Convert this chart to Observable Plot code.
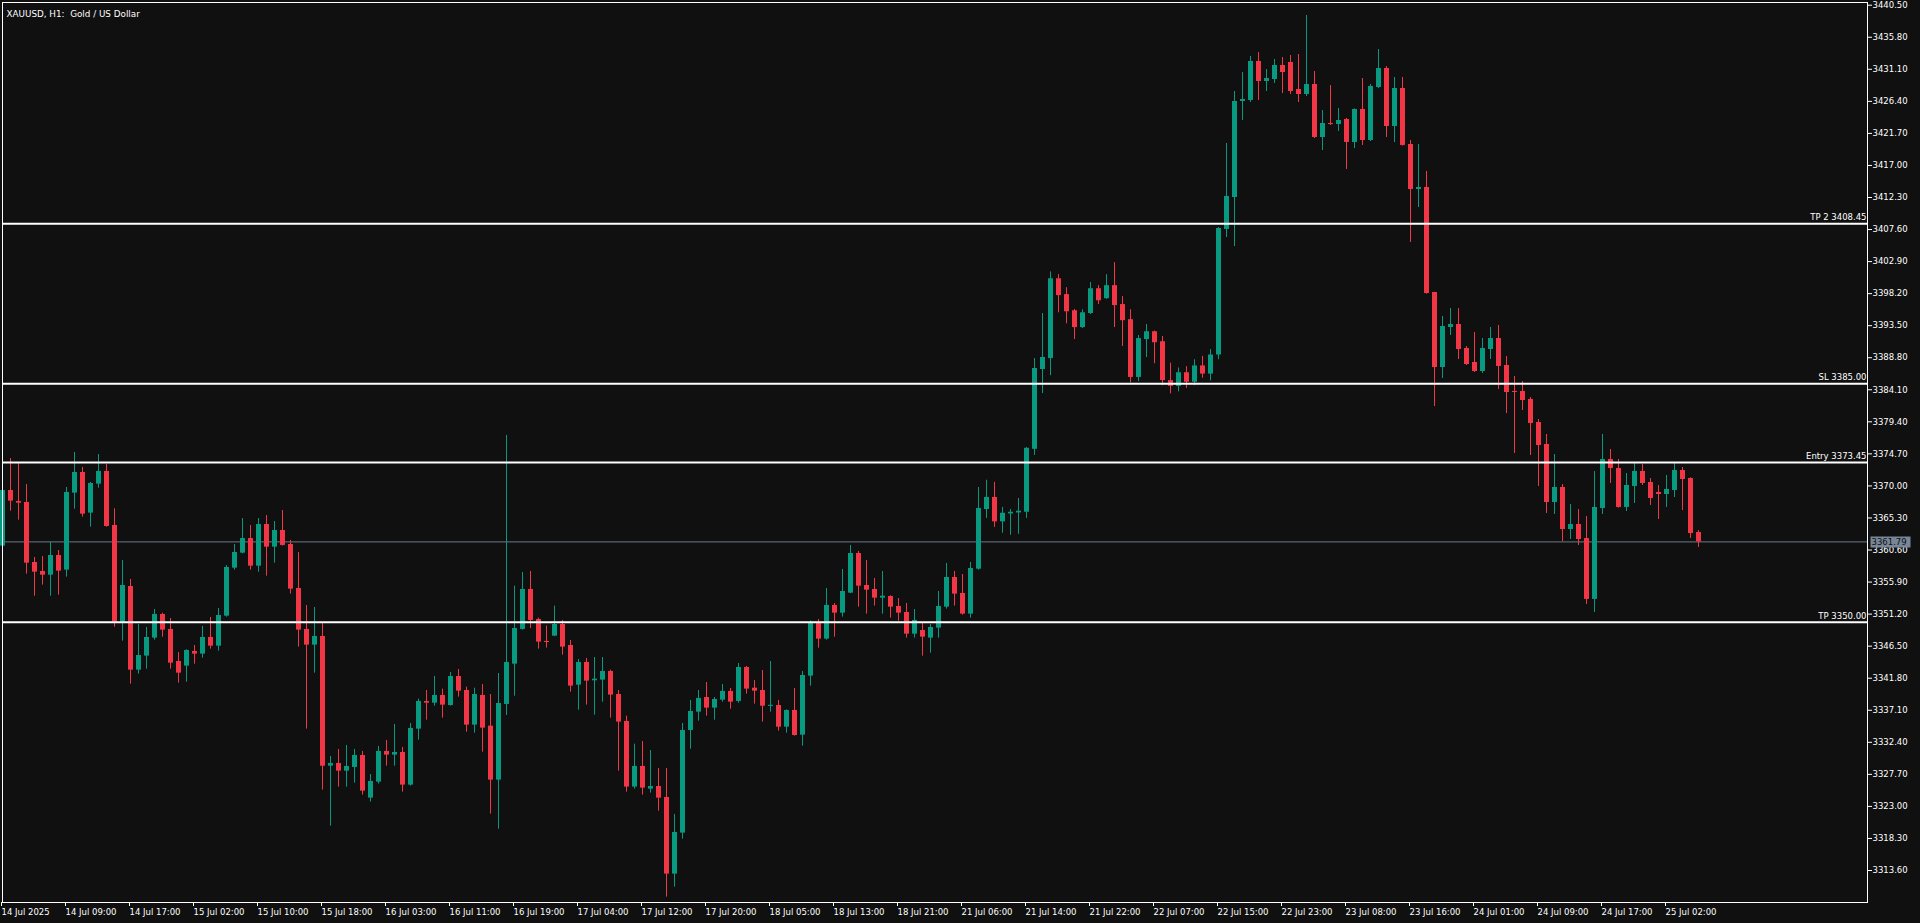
<!DOCTYPE html>
<html><head><meta charset="utf-8">
<script src="https://cdn.jsdelivr.net/npm/d3@7"></script>
<script src="https://cdn.jsdelivr.net/npm/@observablehq/plot@0.6"></script>
<style>
html,body{margin:0;padding:0;background:#101010;overflow:hidden}
svg text{white-space:pre}
</style>
</head><body><div id="chart"></div>
<script>
const chartTitle = "XAUUSD, H1:  Gold / US Dollar";

const opens = [3361.17,3369.33,3367.72,3367.57,3358.77,3357.45,3356.91,3359.80,3357.65,3368.94,3371.97,3366.01,3370.26,3372.12,3364.20,3350.02,3355.25,3342.98,3345.04,3347.68,3351.15,3348.95,3344.25,3343.57,3345.72,3345.33,3347.77,3346.50,3350.90,3357.94,3360.14,3362.29,3358.23,3364.34,3361.02,3363.46,3361.41,3354.96,3348.95,3346.65,3347.92,3328.90,3329.30,3328.17,3328.71,3330.47,3324.21,3326.56,3331.06,3330.52,3330.91,3326.12,3334.33,3338.39,3338.14,3339.27,3337.80,3342.05,3340.00,3334.92,3339.27,3334.77,3326.85,3337.95,3343.86,3348.95,3354.81,3350.41,3347.19,3347.97,3349.68,3346.60,3340.78,3344.11,3341.42,3341.52,3342.79,3339.41,3335.46,3325.83,3328.86,3325.53,3325.92,3324.31,3313.07,3319.08,3334.13,3336.82,3338.97,3337.41,3338.58,3339.86,3338.39,3343.37,3340.34,3340.00,3337.70,3337.80,3334.62,3337.07,3333.45,3342.10,3349.88,3347.53,3352.47,3351.34,3354.27,3360.09,3355.40,3354.81,3353.54,3353.79,3352.32,3351.44,3348.26,3348.80,3347.68,3349.14,3352.22,3356.57,3354.23,3351.20,3357.79,3366.54,3368.31,3364.73,3365.89,3366.04,3366.14,3375.37,3387.07,3388.68,3400.38,3398.06,3395.69,3393.22,3395.29,3398.92,3397.46,3399.37,3396.60,3394.38,3385.91,3391.46,3392.61,3391.15,3385.45,3384.60,3386.60,3385.20,3387.60,3386.40,3389.20,3407.61,3412.30,3426.38,3426.53,3432.24,3429.31,3429.60,3431.66,3432.10,3428.14,3427.40,3428.87,3421.10,3423.15,3423.00,3423.74,3420.36,3425.20,3420.66,3428.43,3431.22,3422.71,3428.28,3420.07,3413.47,3413.77,3398.37,3387.37,3393.23,3393.67,3390.15,3388.10,3386.78,3390.01,3391.62,3387.66,3383.85,3383.85,3382.68,3379.30,3376.08,3367.57,3369.77,3363.61,3364.34,3362.29,3353.35,3366.69,3373.88,3372.56,3366.84,3369.92,3372.12,3370.50,3369.04,3368.74,3369.33,3372.26,3371.09,3363.17];
const highs = [3369.58,3374.02,3373.34,3370.21,3359.51,3359.65,3361.75,3360.53,3369.77,3374.90,3372.70,3370.50,3374.61,3373.14,3366.64,3359.07,3356.28,3349.68,3349.24,3351.88,3351.34,3350.56,3345.57,3345.97,3346.60,3349.39,3350.71,3352.03,3358.33,3361.41,3365.22,3364.20,3365.22,3365.66,3364.78,3366.40,3362.00,3360.24,3352.47,3352.17,3349.87,3330.32,3331.35,3331.94,3331.35,3331.06,3327.68,3331.79,3332.67,3335.02,3331.64,3335.16,3338.73,3340.00,3342.05,3340.20,3342.64,3343.08,3340.49,3340.34,3340.88,3339.41,3342.49,3377.40,3355.30,3357.30,3357.45,3350.61,3349.44,3352.37,3350.27,3347.33,3344.55,3344.69,3344.84,3344.84,3342.98,3340.00,3336.24,3332.13,3332.52,3331.20,3328.56,3328.56,3321.82,3335.16,3338.54,3340.00,3341.17,3338.97,3340.88,3340.29,3343.96,3343.52,3341.47,3342.93,3344.25,3338.54,3337.17,3340.29,3342.79,3350.17,3350.41,3354.96,3352.76,3357.75,3361.27,3360.39,3359.07,3356.43,3357.45,3353.88,3353.49,3352.76,3351.88,3349.97,3349.68,3354.52,3358.63,3357.45,3357.01,3358.77,3369.77,3370.83,3370.53,3366.85,3366.54,3368.16,3375.62,3388.68,3395.29,3401.39,3400.99,3399.07,3395.89,3395.84,3399.83,3399.37,3400.99,3402.75,3397.76,3395.84,3392.06,3393.67,3392.72,3391.91,3388.00,3387.30,3387.50,3388.50,3389.00,3390.00,3407.90,3420.22,3427.84,3430.63,3432.98,3433.56,3431.07,3432.54,3432.83,3433.13,3433.27,3438.99,3430.78,3425.06,3428.72,3425.35,3423.89,3425.30,3429.75,3428.87,3434.00,3431.51,3429.90,3429.90,3420.66,3420.07,3416.11,3398.40,3394.85,3396.02,3396.02,3390.45,3392.50,3391.62,3393.23,3393.53,3388.98,3386.05,3385.32,3382.97,3379.74,3377.54,3374.61,3370.21,3367.28,3366.54,3365.52,3372.11,3377.54,3375.34,3373.88,3371.82,3373.29,3373.14,3371.09,3370.06,3371.53,3373.29,3372.70,3371.20,3363.46];
const lows = [3360.92,3366.30,3364.98,3357.06,3353.83,3355.45,3353.83,3353.98,3356.62,3366.59,3365.42,3363.95,3369.67,3363.95,3349.29,3347.24,3340.93,3342.40,3343.13,3347.38,3347.82,3343.13,3341.08,3341.22,3343.86,3344.74,3346.06,3345.77,3350.76,3357.65,3360.04,3357.65,3357.35,3356.77,3358.67,3361.17,3354.13,3346.36,3334.33,3342.54,3325.39,3320.11,3325.83,3325.83,3326.41,3324.65,3323.63,3326.27,3328.90,3328.90,3325.09,3325.97,3332.72,3335.65,3337.70,3335.94,3337.70,3339.02,3333.89,3333.74,3330.96,3321.87,3319.67,3336.33,3339.17,3348.85,3349.09,3346.06,3346.21,3347.90,3345.18,3339.76,3337.12,3337.85,3336.38,3338.29,3335.94,3328.17,3325.09,3325.53,3324.65,3324.95,3322.30,3309.69,3311.16,3318.20,3331.40,3335.50,3336.24,3335.65,3338.29,3337.26,3338.14,3339.46,3338.00,3335.36,3336.82,3334.04,3333.74,3333.30,3331.84,3340.64,3346.21,3347.38,3347.82,3350.76,3354.20,3352.22,3351.20,3352.37,3351.20,3350.61,3350.17,3347.68,3347.68,3345.04,3345.48,3347.68,3351.93,3352.37,3351.05,3350.61,3357.65,3365.23,3363.92,3363.06,3362.76,3362.91,3365.23,3374.46,3383.54,3386.16,3395.39,3393.77,3391.46,3393.07,3395.14,3396.60,3397.36,3393.22,3390.45,3385.10,3385.30,3388.83,3387.92,3384.70,3383.50,3383.80,3384.30,3384.70,3385.80,3385.40,3388.50,3406.43,3405.11,3423.59,3426.23,3426.53,3427.84,3429.02,3427.55,3427.40,3426.23,3427.11,3420.95,3419.19,3422.86,3421.98,3416.41,3419.48,3419.93,3420.51,3428.28,3421.10,3420.36,3419.83,3405.70,3410.83,3398.12,3381.65,3385.76,3392.06,3388.54,3387.66,3386.64,3386.49,3388.54,3384.14,3380.62,3374.76,3381.06,3374.46,3369.92,3365.96,3365.81,3361.85,3362.14,3361.26,3352.61,3351.44,3365.81,3370.36,3366.74,3366.25,3367.42,3370.06,3367.13,3365.08,3366.84,3368.30,3366.40,3362.29,3360.97];
const closes = [3369.33,3367.77,3367.47,3358.67,3357.35,3356.91,3359.80,3357.50,3369.04,3371.97,3365.86,3370.36,3372.12,3364.05,3350.02,3355.40,3342.98,3345.13,3347.77,3351.15,3348.85,3344.01,3342.54,3345.87,3345.33,3347.77,3346.50,3351.00,3358.04,3360.24,3362.29,3358.23,3364.34,3361.02,3363.46,3361.27,3354.86,3348.85,3346.65,3347.92,3328.90,3329.30,3328.17,3328.86,3330.47,3325.24,3326.66,3331.06,3330.52,3330.91,3326.12,3334.43,3338.39,3338.14,3339.27,3337.85,3342.05,3339.90,3334.92,3339.41,3334.48,3326.85,3338.09,3344.11,3349.09,3354.81,3350.27,3347.09,3347.04,3349.68,3346.36,3340.64,3344.11,3341.37,3341.66,3342.79,3339.32,3335.36,3325.83,3328.86,3325.68,3325.92,3324.21,3313.07,3319.18,3334.13,3336.92,3338.83,3337.41,3338.68,3339.86,3338.29,3343.37,3340.20,3339.90,3337.70,3337.80,3334.62,3337.07,3333.40,3342.20,3349.88,3347.53,3352.47,3351.34,3354.52,3360.09,3355.30,3354.71,3353.54,3353.83,3352.22,3351.34,3348.26,3350.27,3347.82,3349.24,3352.32,3356.57,3354.13,3351.20,3357.89,3366.69,3368.31,3364.73,3365.99,3366.14,3366.29,3375.52,3387.22,3388.83,3400.38,3397.91,3395.54,3393.22,3395.39,3398.92,3397.15,3399.37,3396.45,3394.23,3385.91,3391.61,3392.61,3391.00,3385.45,3384.60,3386.60,3385.20,3387.60,3386.40,3389.20,3407.75,3412.45,3426.38,3426.67,3432.24,3429.31,3429.75,3431.66,3430.63,3427.84,3427.40,3428.87,3421.10,3423.15,3423.00,3423.59,3420.37,3425.20,3420.66,3428.58,3431.22,3422.71,3428.28,3419.93,3413.47,3413.77,3398.22,3387.37,3393.38,3393.67,3390.01,3387.81,3386.78,3390.15,3391.62,3387.52,3383.70,3383.70,3382.53,3379.16,3375.93,3367.57,3369.77,3363.61,3364.34,3362.14,3353.35,3366.84,3373.88,3372.56,3366.84,3370.06,3372.12,3370.36,3368.16,3368.74,3369.48,3372.26,3370.94,3363.02,3361.79];

// time-axis labels, one every 8 hourly bars
const timeLabels = ["14 Jul 2025","14 Jul 09:00","14 Jul 17:00","15 Jul 02:00","15 Jul 10:00","15 Jul 18:00","16 Jul 03:00","16 Jul 11:00","16 Jul 19:00","17 Jul 04:00","17 Jul 12:00","17 Jul 20:00","18 Jul 05:00","18 Jul 13:00","18 Jul 21:00","21 Jul 06:00","21 Jul 14:00","21 Jul 22:00","22 Jul 07:00","22 Jul 15:00","22 Jul 23:00","23 Jul 08:00","23 Jul 16:00","24 Jul 01:00","24 Jul 09:00","24 Jul 17:00","25 Jul 02:00"];
const labelEvery = 8;

// price-axis tick labels
const priceTicks = [3440.50,3435.80,3431.10,3426.40,3421.70,3417.00,3412.30,3407.60,3402.90,3398.20,3393.50,3388.80,3384.10,3379.40,3374.70,3370.00,3365.30,3360.60,3355.90,3351.20,3346.50,3341.80,3337.10,3332.40,3327.70,3323.00,3318.30,3313.60];

// horizontal trade levels
const levelNames = ["TP 2","SL","Entry","TP"];
const levelValues = [3408.45,3385.00,3373.45,3350.00];

const bars = opens.map((o, i) => ({i, o, h: highs[i], l: lows[i], c: closes[i]}));
const levels = levelNames.map((n, k) => ({name: n, value: levelValues[k]}));
const lastPrice = closes[closes.length - 1];

const UP = "#089981", DOWN = "#f23645";
const col = d => d.c >= d.o ? UP : DOWN;
const minBody = 0.08;
const bodyLo = d => Math.abs(d.c - d.o) < minBody * 2 ? (d.o + d.c) / 2 - minBody : Math.min(d.o, d.c);
const bodyHi = d => Math.abs(d.c - d.o) < minBody * 2 ? (d.o + d.c) / 2 + minBody : Math.max(d.o, d.c);

const boxSymbol = {draw(ctx) { ctx.moveTo(-19.5, -5.5); ctx.lineTo(20.5, -5.5); ctx.lineTo(20.5, 5.5); ctx.lineTo(-19.5, 5.5); ctx.closePath(); }};

const tickIdx = timeLabels.map((_, k) => k * labelEvery);

const chart = Plot.plot({
  width: 1920,
  height: 923,
  marginLeft: 2,
  marginRight: 53,
  marginTop: 2,
  marginBottom: 21,
  style: {background: "#101010", color: "#ffffff", fontFamily: "'DejaVu Sans', sans-serif", fontSize: "8.5px"},
  x: {type: "linear", domain: [0, 233], range: [2, 2 + 8 * 233], axis: null},
  y: {type: "linear", domain: [3313.6, 3440.5], range: [870, 4.7], axis: null},
  marks: [
    Plot.ruleY([lastPrice], {y: d => d, stroke: "#6b7a89", strokeWidth: 1}),
    Plot.ruleX(bars, {x: "i", y1: "l", y2: "h", stroke: col, strokeWidth: 1}),
    Plot.ruleX(bars, {x: "i", y1: bodyLo, y2: bodyHi, stroke: col, strokeWidth: 5}),
    Plot.ruleY(levels, {y: "value", stroke: "#ffffff", strokeWidth: 2}),
    Plot.text(levels, {y: "value", frameAnchor: "right", text: d => `${d.name} ${d.value.toFixed(2)}`, textAnchor: "end", dx: -1, dy: -6.5, fill: "#ffffff"}),
    Plot.frame({stroke: "#ffffff"}),
    Plot.axisY({anchor: "right", ticks: priceTicks, tickFormat: d => d.toFixed(2), tickSize: 4, tickPadding: 1, label: null, stroke: "#ffffff", fill: "#ffffff"}),
    Plot.axisX({anchor: "bottom", ticks: tickIdx, tickFormat: (d) => timeLabels[Math.round(d / labelEvery)], tickSize: 4, tickPadding: 2, textAnchor: "start", dx: -1, label: null, stroke: "#ffffff", fill: "#ffffff"}),
    Plot.dot([lastPrice], {y: d => d, frameAnchor: "right", dx: 22.5, symbol: boxSymbol, r: 5, fill: "#778797", stroke: "none"}),
    Plot.text([lastPrice], {y: d => d, frameAnchor: "right", dx: 4, textAnchor: "start", text: d => d.toFixed(2), fill: "#101010"}),
    Plot.text([chartTitle], {frameAnchor: "top-left", dx: 4, dy: 8, textAnchor: "start", text: d => d, fill: "#ffffff", fontSize: 8.8})
  ]
});
document.getElementById("chart").append(chart);
</script></body></html>
